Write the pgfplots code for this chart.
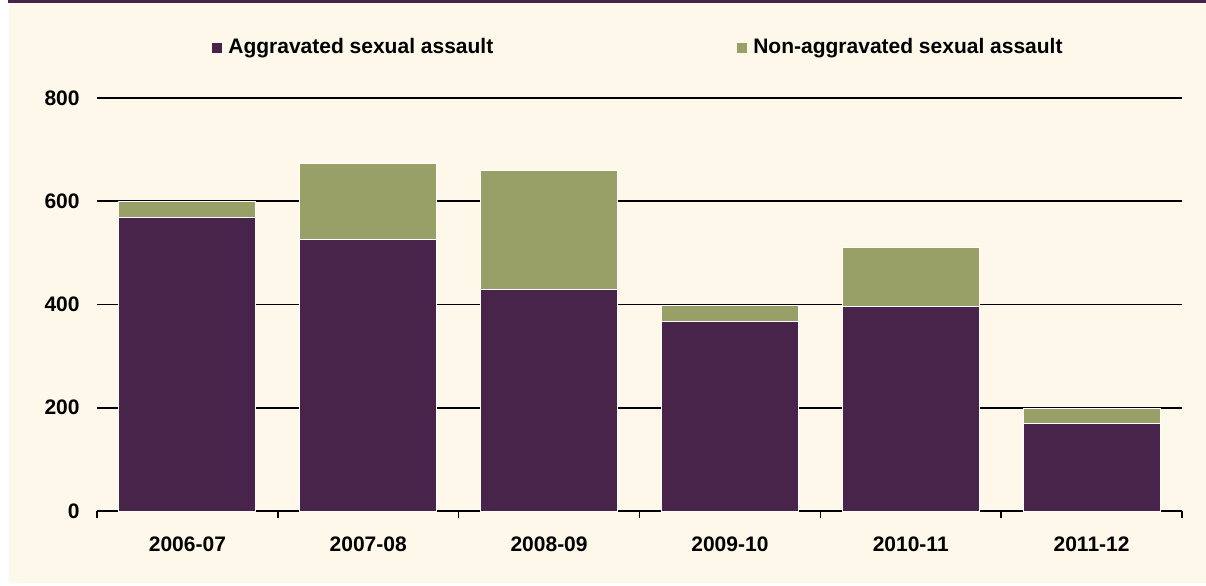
\documentclass[border=0pt]{standalone}
\usepackage{fontspec}
\setmainfont{Liberation Sans}
\usepackage{pgfplots}
\pgfplotsset{compat=1.18}

\definecolor{aggr}{RGB}{72,35,74}
\definecolor{nonaggr}{RGB}{152,160,103}
\definecolor{cream}{RGB}{254,248,234}

\begin{document}
\begin{tikzpicture}[x=1pt,y=1pt]
% background, 1px = 0.5pt
\fill[white] (0,0) rectangle (603,292.5);
\fill[cream] (4.5,1) rectangle (603,292.5);
\fill[aggr] (4,291.2) rectangle (603,292.5);

\begin{axis}[
    at={(48.5pt,37pt)}, anchor=south west,
    scale only axis,
    width=542.5pt, height=206.5pt,
    font=\fontsize{10.5}{12}\selectfont\bfseries,
    /pgf/number format/assume math mode=true,
    ybar stacked,
    bar width=0.757,
    xmin=-0.5, xmax=5.5,
    ymin=0, ymax=800,
    ytick={0,200,400,600,800},
    xtick={0,1,2,3,4,5},
    xticklabels={2006-07,2007-08,2008-09,2009-10,2010-11,2011-12},
    minor xtick={-0.5,0.5,1.5,2.5,3.5,4.5,5.5},
    axis x line*=bottom,
    axis y line*=left,
    y axis line style={draw=none},
    x axis line style={black, line width=0.9pt},
    major tick length=0pt,
    minor tick length=3.5pt,
    tick align=outside,
    ytick style={draw=none},
    minor x tick style={black, line width=0.8pt},
    ymajorgrids=true,
    grid style={black, line width=0.8pt},
    yticklabel style={anchor=east, inner sep=0pt, xshift=-8.5pt},
    xticklabel style={anchor=north, inner sep=0pt, yshift=-12.5pt},
    legend columns=2,
    legend style={at={(0.5,1.1223)}, anchor=center, draw=none, fill=none,
        inner sep=0pt, font=\fontsize{10.5}{12}\selectfont\bfseries,
        /tikz/every odd column/.append style={column sep=1pt},
        /tikz/column 2/.append style={column sep=120pt}},
    legend cell align=left,
    legend image code/.code={\fill[#1,draw=none] (0pt,-2.5pt) rectangle (5pt,2.5pt);},
]

\addplot[fill=aggr, draw=white!85!cream, line width=0.5pt]
    coordinates {(0,569) (1,526) (2,429) (3,367) (4,396) (5,169)};
\addlegendentry{Aggravated sexual assault}

\addplot[fill=nonaggr, draw=white!85!cream, line width=0.5pt]
    coordinates {(0,30) (1,147) (2,230) (3,31) (4,114) (5,29)};
\addlegendentry{Non-aggravated sexual assault}

\end{axis}
\end{tikzpicture}
\end{document}
